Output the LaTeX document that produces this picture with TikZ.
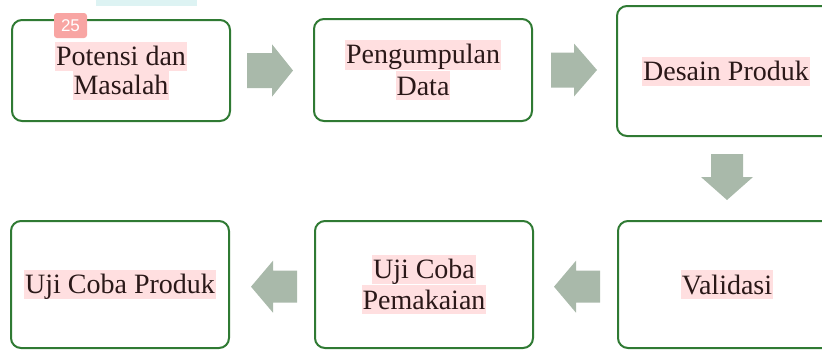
\documentclass[tikz,border=0pt]{standalone}
\usepackage{fontspec}
\setmainfont{Liberation Serif}
\newfontfamily\badgefont{Liberation Sans}
\definecolor{boxgreen}{HTML}{2F7A33}
\definecolor{arrowfill}{HTML}{A9B9AA}
\definecolor{hlpink}{HTML}{FFDFE0}
\definecolor{badgered}{HTML}{F8A5A3}
\definecolor{barcyan}{HTML}{DDF3F3}
\definecolor{txt}{HTML}{2A1818}
\newcommand{\hl}[1]{{\setlength{\fboxsep}{0pt}\colorbox{hlpink}{\rule[-5pt]{0pt}{29pt}\hspace{1pt}#1\hspace{1pt}}}}
\begin{document}
\begin{tikzpicture}[x=1pt,y=-1pt]
\tikzset{
  stepbox/.style={draw=boxgreen, line width=2pt, rounded corners=10pt, fill=white,
    inner sep=0pt, align=center, font=\fontsize{28}{29}\selectfont, text=txt,
    minimum width=218pt},
  blockarrow/.style={fill=arrowfill, draw=none}
}
\useasboundingbox (0,0) rectangle (822,349);
% faint top bar
\fill[barcyan] (96,0) rectangle (197,6);
% boxes
\node[stepbox, minimum height=101pt] (b1) at (121,70.5) {\hl{Potensi dan}\\\hl{Masalah}};
\node[stepbox, minimum height=102pt] (b2) at (423,70) {\hl{Pengumpulan}\\\hl{Data}};
\node[stepbox, minimum height=130pt] (b3) at (726,71) {\hl{Desain Produk}};
\node[stepbox, minimum height=127pt] (b4) at (120,284.5) {\hl{Uji Coba Produk}};
\node[stepbox, minimum height=127pt] (b5) at (424,284.5) {\hl{Uji Coba}\\\hl{Pemakaian}};
\node[stepbox, minimum height=127pt] (b6) at (727,284.5) {\hl{Validasi}};
% badge
\node[fill=badgered, rounded corners=3pt, minimum width=33pt, minimum height=25pt,
  inner sep=0pt, text=white, font=\badgefont\fontsize{17}{17}\selectfont] (badge) at (70.5,25.5) {25};
% block arrows
\fill[blockarrow] (247,53) -- (272,53) -- (272,44.3) -- (293,70.5) -- (272,96.7) -- (272,88) -- (247,88) -- cycle;
\fill[blockarrow] (551,52.5) -- (574,52.5) -- (574,43.5) -- (597,70) -- (574,96.5) -- (574,87.5) -- (551,87.5) -- cycle;
\fill[blockarrow] (711,154) -- (743,154) -- (743,177) -- (753,177) -- (727,200) -- (701,177) -- (711,177) -- cycle;
\fill[blockarrow] (297,270.7) -- (273,270.7) -- (273,260.7) -- (251,286.7) -- (273,312.7) -- (273,302.7) -- (297,302.7) -- cycle;
\fill[blockarrow] (600,270.7) -- (576,270.7) -- (576,260.7) -- (554,286.7) -- (576,312.7) -- (576,302.7) -- (600,302.7) -- cycle;
\end{tikzpicture}
\end{document}
